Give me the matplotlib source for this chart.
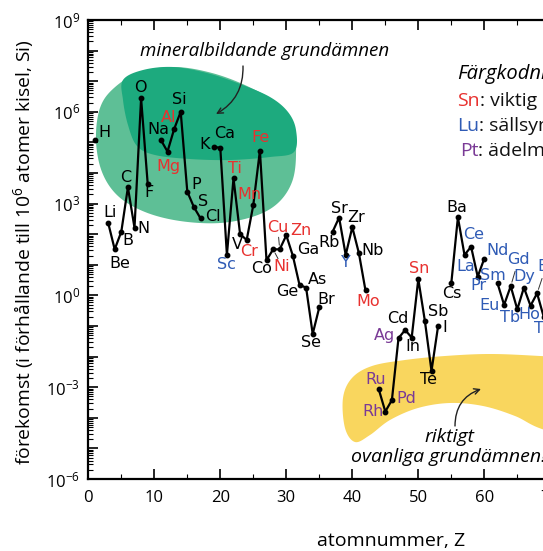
import numpy as np
import matplotlib
matplotlib.use("Agg")
import matplotlib.pyplot as plt
from matplotlib.ticker import FixedLocator, LogLocator, NullFormatter, FuncFormatter, MultipleLocator

plt.rcParams['font.family'] = ['Open Sans', 'DejaVu Sans']
plt.rcParams['mathtext.fontset'] = 'custom'
plt.rcParams['mathtext.rm'] = 'Open Sans'
plt.rcParams['mathtext.it'] = 'Open Sans:italic'
plt.rcParams['mathtext.bf'] = 'Open Sans:bold'

# ---------------- data ----------------
symbols = ['H', 'He', 'Li', 'Be', 'B', 'C', 'N', 'O', 'F', 'Ne',
           'Na', 'Mg', 'Al', 'Si', 'P', 'S', 'Cl', 'Ar', 'K', 'Ca',
           'Sc', 'Ti', 'V', 'Cr', 'Mn', 'Fe', 'Co', 'Ni', 'Cu', 'Zn',
           'Ga', 'Ge', 'As', 'Se', 'Br', 'Kr', 'Rb', 'Sr', 'Y', 'Zr',
           'Nb', 'Mo', 'Tc', 'Ru', 'Rh', 'Pd', 'Ag', 'Cd', 'In', 'Sn',
           'Sb', 'Te', 'I', 'Xe', 'Cs', 'Ba', 'La', 'Ce', 'Pr', 'Nd',
           'Pm', 'Sm', 'Eu', 'Gd', 'Tb', 'Dy', 'Ho', 'Er', 'Tm']
atomic_number = list(range(1, len(symbols) + 1))
# abundance, atoms per 10^6 atoms Si (None = not plotted)
abundance = [1.2e5, None, 240, 32, 120, 3400, 163, 2.75e6, 4400, None,
             1.2e5, 5.0e4, 2.7e5, 1.0e6, 2450, 770, 330, None, 7.2e4, 6.6e4,
             21, 6700, 100, 65, 900, 5.4e4, 14, 32, 32, 92,
             19.5, 2.2, 1.8, 0.055, 0.41, None, 118, 350, 21, 170,
             24, 1.45, None, 8.7e-4, 1.6e-4, 3.8e-4, 0.040, 0.074, 0.042, 3.4,
             0.145, 0.0034, 0.10, None, 2.5, 355, 21, 39, 4.1, 16,
             None, 2.5, 0.49, 2.0, 0.35, 1.8, 0.46, 1.17, 0.2]
industrial = ['Mg', 'Al', 'Ti', 'Cr', 'Mn', 'Fe', 'Ni', 'Cu', 'Zn', 'Mo', 'Sn']
rare_earth = ['Sc', 'Y', 'La', 'Ce', 'Pr', 'Nd', 'Sm', 'Eu', 'Gd', 'Tb', 'Dy', 'Ho', 'Er', 'Tm']
precious = ['Ru', 'Rh', 'Pd', 'Ag']

RED, BLUE, PURPLE = '#e8312f', '#2f5bb5', '#7a3a96'

# label offsets (pixels, y up)
label_offset = {
    'H': (10, 7), 'Li': (2, 10), 'Be': (5, -14), 'B': (7, -9), 'C': (-2, 10),
    'N': (9, -1), 'O': (-1, 11), 'F': (1, -9), 'Na': (-3, 10), 'Mg': (1, -15),
    'Al': (-5, 12), 'Si': (-1, 12), 'P': (9, 7), 'S': (9, 6), 'Cl': (12, 2),
    'K': (-9, 2), 'Ca': (4, 14), 'Sc': (0, -10), 'Ti': (1, 10), 'V': (-3, -10),
    'Cr': (2, -12), 'Mn': (-4, 11), 'Fe': (1, 13), 'Co': (-5, -8), 'Ni': (9, -17),
    'Cu': (-2, 22), 'Zn': (15, 5), 'Ga': (15, 6), 'Ge': (-12, -7), 'As': (11, 8),
    'Se': (-2, -9), 'Br': (7, 8), 'Rb': (-3, -10), 'Sr': (0, 9), 'Y': (0, -8),
    'Zr': (4, 10), 'Nb': (14, 3), 'Mo': (3, -11), 'Ru': (-3, 10), 'Rh': (-12, 0),
    'Pd': (14, 2), 'Ag': (-14, 3), 'Cd': (-7, 12), 'In': (1, -9), 'Sn': (1, 11),
    'Sb': (13, 10), 'Te': (-3, -9), 'I': (7, -1), 'Cs': (1, -10), 'Ba': (-1, 10),
    'La': (1, -12), 'Ce': (3, 12), 'Pr': (1, -9), 'Nd': (13, 8), 'Sm': (-5, 8),
    'Eu': (-15, -1), 'Gd': (8, 27), 'Tb': (-7, -8), 'Dy': (0, 11), 'Ho': (-1, -9),
    'Er': (9, 27), 'Tm': (3, -12),
}
leaders = ['Cu', 'Ni', 'Gd', 'Er']

# ---------------- figure ----------------
W, H = 543, 551
fig = plt.figure(figsize=(W / 100, H / 100), dpi=100)
X0, X1, YT, YB = 88.3, 88.3 + 6.6 * 90, 20, 479
ax = fig.add_axes([X0 / W, 1 - YB / H, (X1 - X0) / W, (YB - YT) / H])
ax.set_xlim(0, 90)
ax.set_yscale('log')
ax.set_ylim(1e-6, 1e9)


def px2ax(pts):
    p = np.asarray(pts, float)
    return np.column_stack([(p[:, 0] - X0) / (X1 - X0), (YB - p[:, 1]) / (YB - YT)])


def smooth_closed(pts, n=40):
    P = np.asarray(pts, float)
    N = len(P)
    out = []
    t = np.linspace(0, 1, n, endpoint=False)[:, None]
    for i in range(N):
        p0, p1, p2, p3 = P[i - 1], P[i], P[(i + 1) % N], P[(i + 2) % N]
        out.append(0.5 * ((2 * p1) + (-p0 + p2) * t + (2 * p0 - 5 * p1 + 4 * p2 - p3) * t ** 2
                          + (-p0 + 3 * p1 - 3 * p2 + p3) * t ** 3))
    return np.vstack(out)


light_blob = [(96, 140), (100, 108), (114, 88), (140, 72), (175, 67), (212, 73), (247, 86),
              (276, 103), (293, 126), (296, 155), (292, 182), (278, 203), (255, 216),
              (220, 223), (180, 221), (145, 212), (118, 196), (102, 172)]
dark_blob = [(123, 80), (143, 70), (173, 67), (207, 73), (240, 84), (270, 97), (288, 112),
             (296, 130), (294, 152), (270, 157), (230, 160), (190, 159), (155, 155),
             (137, 146), (128, 125), (123, 100)]
yellow_blob = [(343, 398), (352, 378), (372, 366), (405, 360), (445, 356), (490, 354),
               (540, 356), (600, 360), (640, 385), (610, 445), (545, 430), (515, 416),
               (483, 406), (450, 403), (418, 408), (390, 420), (370, 435), (355, 442),
               (345, 428)]
for blob, col in [(light_blob, '#5ebf96'), (dark_blob, '#1daa7e'), (yellow_blob, '#f9d65e')]:
    s = px2ax(smooth_closed(blob))
    ax.fill(s[:, 0], s[:, 1], color=col, lw=0, zorder=0, transform=ax.transAxes)

vals = np.array([np.nan if v is None else v for v in abundance], float)
ax.plot(atomic_number, vals, '-', color='black', lw=1.6, marker='o', ms=3.2, zorder=3)

for z, sym, v in zip(atomic_number, symbols, abundance):
    if v is None:
        continue
    col = RED if sym in industrial else BLUE if sym in rare_earth else PURPLE if sym in precious else 'black'
    dx, dy = label_offset.get(sym, (0, 10))
    ax.annotate(sym, (z, v), xytext=(dx, dy), textcoords='offset pixels', ha='center', va='center',
                fontsize=11.5, color=col, family='DejaVu Sans', zorder=4, annotation_clip=False)
    if sym in leaders:
        ax.annotate('', (z, v), xytext=(dx * 0.55, dy * 0.55), textcoords='offset pixels',
                    xycoords='data', zorder=4,
                    arrowprops=dict(arrowstyle='-', lw=0.7, color='#333333', shrinkA=0, shrinkB=3))

# ---------------- axes styling ----------------
for sp in ax.spines.values():
    sp.set_linewidth(1.6)
ax.yaxis.set_major_locator(FixedLocator([10.0 ** k for k in range(-6, 10)]))
ax.yaxis.set_minor_locator(LogLocator(base=10, subs=np.arange(2, 10), numticks=100))
ax.yaxis.set_minor_formatter(NullFormatter())


def yfmt(v, pos):
    k = int(round(np.log10(v)))
    if k % 3:
        return ''
    return r'$\mathregular{10^{%d}}$' % k


ax.yaxis.set_major_formatter(FuncFormatter(yfmt))
ax.xaxis.set_major_locator(MultipleLocator(10))
ax.xaxis.set_minor_locator(MultipleLocator(5))
ax.tick_params(which='both', direction='in', top=True, right=False, labelsize=12)
ax.tick_params(which='major', length=7, width=1.2)
ax.tick_params(which='minor', length=3.5, width=0.8)
ax.tick_params(axis='x', which='major', pad=8)
ax.tick_params(axis='y', which='major', pad=6)

ax.set_xlabel('atomnummer, Z', fontsize=14)
ax.xaxis.set_label_coords((391 - X0) / (X1 - X0), (YB - 532) / (YB - YT))
ax.set_ylabel(r'förekomst (i förhållande till 10$^{6}$ atomer kisel, Si)', fontsize=13.9)
ax.yaxis.set_label_coords((36 - X0) / (X1 - X0), (YB - 252) / (YB - YT))


# ---------------- annotations ----------------
def fp(x, y):
    return (x / W, 1 - y / H)


fig.text(*fp(140, 51), 'mineralbildande grundämnen', style='italic', fontsize=13.5,
         ha='left', va='center')
ax.annotate('', xy=fp(216, 114), xycoords='figure fraction', xytext=fp(243, 66),
            textcoords='figure fraction',
            arrowprops=dict(arrowstyle='->', lw=1.0, color='#222222',
                            connectionstyle='arc3,rad=-0.3', shrinkA=0, shrinkB=0))
fig.text(*fp(449, 447), 'riktigt\novanliga grundämnen!', style='italic', fontsize=14,
         ha='center', va='center', multialignment='center', linespacing=1.15)
ax.annotate('', xy=fp(481, 389), xycoords='figure fraction', xytext=fp(455, 426),
            textcoords='figure fraction',
            arrowprops=dict(arrowstyle='->', lw=1.0, color='#222222',
                            connectionstyle='arc3,rad=-0.35', shrinkA=0, shrinkB=0))

fig.text(*fp(457, 74), 'Färgkodning:', style='italic', fontsize=14.5, ha='left', va='center')
for (y, key, col, rest) in [(101, 'Sn', RED, ': viktig i industrin'),
                            (126, 'Lu', BLUE, ': sällsynta jordartsmetaller'),
                            (151, 'Pt', PURPLE, ': ädelmetaller')]:
    t = fig.text(*fp(457 if key != 'Pt' else 460, y), key, color=col, fontsize=14,
                 ha='left', va='center')
    ax.annotate(rest, xy=(1, 0.5), xycoords=t, ha='left', va='center', fontsize=14,
                color='#111111', annotation_clip=False)

fig.savefig('out.png', dpi=100)
